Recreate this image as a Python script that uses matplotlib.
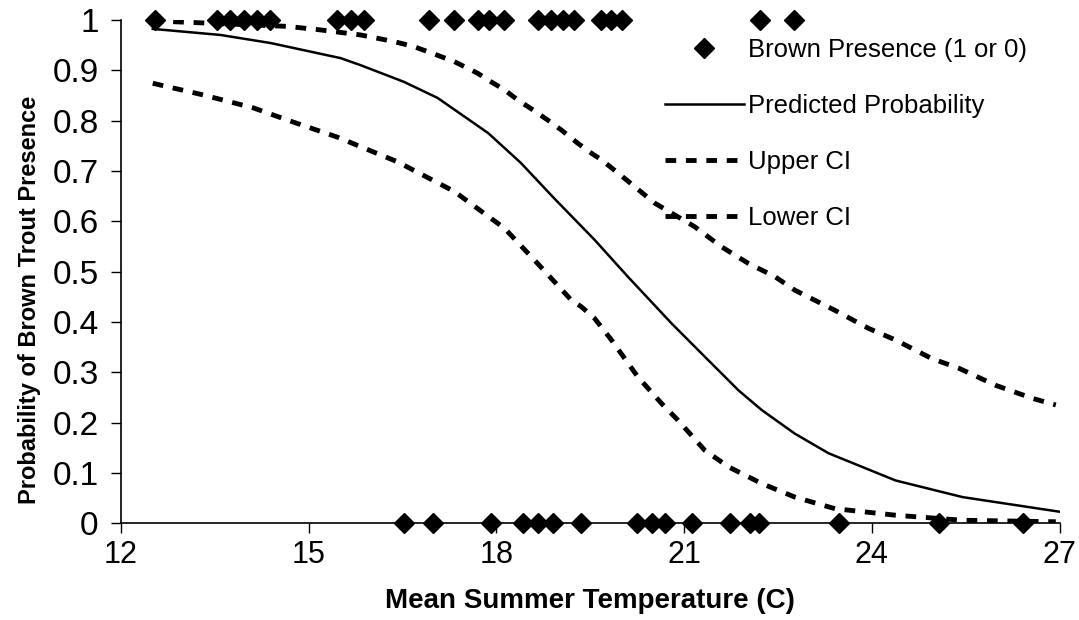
import numpy as np
import matplotlib
matplotlib.use("Agg")
import matplotlib.pyplot as plt
from matplotlib.lines import Line2D
from matplotlib.ticker import FuncFormatter

plt.rcParams["font.family"] = ["Liberation Sans", "DejaVu Sans"]

# ── DATA ────────────────────────────────────────────────────────────────────
# observed sites: temperature where brown trout present (1) / absent (0)
present_temp = [12.54, 13.54, 13.75, 13.96, 14.18, 14.39, 15.46, 15.67, 15.88,
                16.92, 17.32, 17.71, 17.88, 18.12, 18.67, 18.88, 19.07, 19.24,
                19.68, 19.84, 20.00, 22.21, 22.75]
absent_temp = [16.52, 16.98, 17.91, 18.43, 18.67, 18.91, 19.36, 20.24, 20.48,
               20.69, 21.12, 21.73, 22.05, 22.19, 23.47, 25.08, 26.41]

pred_temp = [12.51, 13.59, 14.39, 15.51, 15.83, 16.52, 17.06, 17.87, 18.39,
             18.92, 19.57, 20.10, 20.80, 21.33, 21.87, 22.24, 22.77, 23.31,
             24.38, 25.45, 27.05]
pred_prob = [0.982, 0.970, 0.954, 0.924, 0.910, 0.877, 0.845, 0.775, 0.716,
             0.646, 0.563, 0.490, 0.397, 0.331, 0.264, 0.225, 0.178, 0.139,
             0.085, 0.052, 0.022]

upper_temp = [12.51, 14.66, 15.19, 15.83, 16.36, 16.68, 16.90, 17.33, 17.70,
              17.86, 18.13, 18.34, 18.55, 18.82, 19.04, 19.30, 19.52, 19.68,
              20.10, 20.53, 21.17, 21.60, 22.03, 22.45, 22.77, 23.41, 23.95,
              24.38, 24.96, 25.39, 25.98, 26.57, 26.94]
upper_prob = [0.998, 0.987, 0.980, 0.970, 0.957, 0.947, 0.937, 0.917, 0.894,
              0.881, 0.861, 0.841, 0.824, 0.801, 0.781, 0.755, 0.735, 0.722,
              0.680, 0.636, 0.589, 0.549, 0.516, 0.490, 0.463, 0.423, 0.387,
              0.364, 0.327, 0.308, 0.274, 0.248, 0.235]

lower_temp = [12.51, 13.31, 14.12, 14.66, 15.46, 16.42, 17.33, 18.13, 18.66,
              19.20, 19.36, 19.57, 19.84, 20.26, 20.64, 20.90, 21.33, 21.71,
              22.24, 22.77, 23.41, 24.38, 25.45, 26.94]
lower_prob = [0.874, 0.851, 0.825, 0.801, 0.767, 0.718, 0.659, 0.586, 0.516,
              0.443, 0.430, 0.407, 0.364, 0.291, 0.238, 0.205, 0.145, 0.112,
              0.079, 0.052, 0.029, 0.016, 0.006, 0.003]

x_ticks = [12, 15, 18, 21, 24, 27]
y_ticks = [0, 0.1, 0.2, 0.3, 0.4, 0.5, 0.6, 0.7, 0.8, 0.9, 1]
# ────────────────────────────────────────────────────────────────────────────

DASH = (0, (2.2, 2.0))

fig = plt.figure(figsize=(10.79, 6.2), dpi=100)
ax = fig.add_axes([0.112, 0.156, 0.870, 0.812])

ax.plot(pred_temp, pred_prob, color="black", lw=1.8, zorder=2)
ax.plot(upper_temp, upper_prob, color="black", lw=3.5, ls=DASH, zorder=2)
ax.plot(lower_temp, lower_prob, color="black", lw=3.5, ls=DASH, zorder=2)

ax.plot(present_temp, np.ones(len(present_temp)), ls="none", marker="D",
        ms=10, color="black", clip_on=False, zorder=3)
ax.plot(absent_temp, np.zeros(len(absent_temp)), ls="none", marker="D",
        ms=10, color="black", clip_on=False, zorder=3)

ax.set_xlim(12, 27)
ax.set_ylim(0, 1)
ax.set_xticks(x_ticks)
ax.set_yticks(y_ticks)
ax.yaxis.set_major_formatter(FuncFormatter(lambda v, p: f"{v:g}"))
ax.tick_params(axis="both", direction="out", length=7, width=1)
ax.tick_params(axis="x", labelsize=22, pad=5)
ax.tick_params(axis="y", labelsize=24, pad=9)

for side in ["top", "right"]:
    ax.spines[side].set_visible(False)
for side in ["left", "bottom"]:
    ax.spines[side].set_linewidth(1.2)

ax.set_xlabel("Mean Summer Temperature (C)", fontsize=20, fontweight="bold",
              labelpad=13)
ax.set_ylabel("Probability of Brown Trout Presence", fontsize=17,
              fontweight="bold")
ax.yaxis.set_label_coords(-0.085, 0.443)

handles = [
    Line2D([], [], ls="none", marker="D", ms=10, color="black"),
    Line2D([], [], color="black", lw=1.8),
    Line2D([], [], color="black", lw=3.5, ls=DASH),
    Line2D([], [], color="black", lw=3.5, ls=DASH),
]
labels = ["Brown Presence (1 or 0)", "Predicted Probability", "Upper CI", "Lower CI"]
ax.legend(handles, labels, loc="upper left", bbox_to_anchor=(0.616, 0.939),
          bbox_transform=fig.transFigure, borderpad=0, borderaxespad=0,
          frameon=False, fontsize=18.5, handlelength=3.1, handletextpad=0.15,
          labelspacing=1.25)

fig.savefig("out.png", dpi=100)
